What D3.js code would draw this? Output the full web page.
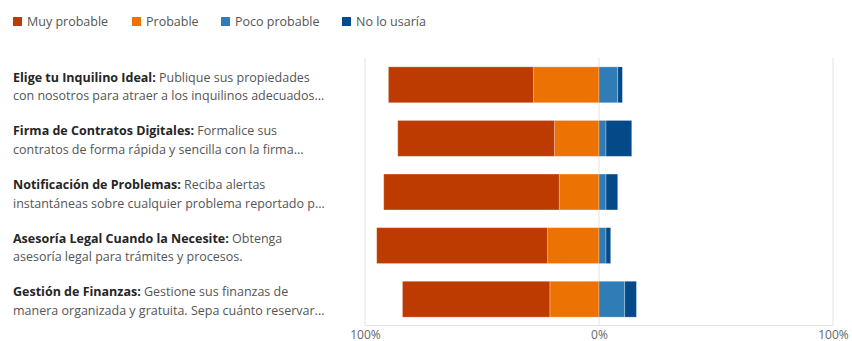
<!DOCTYPE html>
<html>
<head>
<meta charset="utf-8">
<script src="https://cdn.jsdelivr.net/npm/d3@7"></script>
<style>
  body { margin: 0; background: #fff; }
  text { font-family: "Open Sans", "Noto Sans", sans-serif; }
</style>
</head>
<body>
<div id="chart"></div>
<script>
// data
var seriesNames = ["Muy probable", "Probable", "Poco probable", "No lo usaría"]
var seriesColors = ["#bd3b00", "#ed7204", "#2f7cb7", "#044a88"]

var titles = [
    "Elige tu Inquilino Ideal:",
    "Firma de Contratos Digitales:",
    "Notificación de Problemas:",
    "Asesoría Legal Cuando la Necesite:",
    "Gestión de Finanzas:"
]
var descLine1 = [
    "Publique sus propiedades",
    "Formalice sus",
    "Reciba alertas",
    "Obtenga",
    "Gestione sus finanzas de"
]
var descLine2 = [
    "con nosotros para atraer a los inquilinos adecuados...",
    "contratos de forma rápida y sencilla con la firma...",
    "instantáneas sobre cualquier problema reportado p...",
    "asesoría legal para trámites y procesos.",
    "manera organizada y gratuita. Sepa cuánto reservar..."
]

var muyProbable  = [62, 67, 75, 73, 63]
var probable     = [28, 19, 17, 22, 21]
var pocoProbable = [8, 3, 3, 3, 11]
var noLoUsaria   = [2, 11, 5, 2, 5]

var tickValues = [-100, 0, 100]

const width = 852,
    height = 341

var svg = d3.select("#chart")
    .append("svg")
    .attr("width", width)
    .attr("height", height)

var x = d3.scaleLinear().domain([-100, 100]).range([365, 833])
var y = d3.scaleBand().domain(d3.range(titles.length)).range([58, 326])
    .paddingInner(0.33).paddingOuter(0.165)

// build segments: left side stacks outward from 0, right side too
var segs = []
titles.forEach((t, i) => {
    segs.push({row: i, s: 1, x0: -probable[i], x1: 0})
    segs.push({row: i, s: 0, x0: -probable[i] - muyProbable[i], x1: -probable[i]})
    segs.push({row: i, s: 2, x0: 0, x1: pocoProbable[i]})
    segs.push({row: i, s: 3, x0: pocoProbable[i], x1: pocoProbable[i] + noLoUsaria[i]})
})

// grid
var grid = svg.append("g")
grid.selectAll("line.v")
    .data(tickValues)
    .enter()
    .append("line")
    .attr("x1", d => x(d)).attr("x2", d => x(d))
    .attr("y1", 58).attr("y2", 325)
    .attr("stroke", "#e4e4e4")
grid.append("line")
    .attr("x1", x(-100)).attr("x2", x(100))
    .attr("y1", 325.5).attr("y2", 325.5)
    .attr("stroke", "#e4e4e4")

// bars
svg.append("g")
    .selectAll("rect")
    .data(segs)
    .enter()
    .append("rect")
    .attr("x", d => x(d.x0))
    .attr("width", d => x(d.x1) - x(d.x0))
    .attr("y", d => y(d.row))
    .attr("height", y.bandwidth())
    .attr("fill", d => seriesColors[d.s])
    .attr("stroke", "rgba(255,255,255,0.35)")
    .attr("stroke-width", 0.8)

// axis labels
var xAxis = d3.axisBottom(x)
    .tickValues(tickValues)
    .tickSize(0)
    .tickFormat(d => Math.abs(d) + "%")
var ax = svg.append("g")
    .attr("transform", "translate(0,326)")
    .call(xAxis)
ax.select(".domain").remove()
ax.selectAll("text")
    .attr("dy", 0)
    .attr("y", 12.5)
    .attr("fill", "#666")
    .style("font-size", "12px")
    .style("font-family", "\"Open Sans\", sans-serif")

// row labels
var labels = svg.append("g")
    .selectAll("g")
    .data(titles)
    .enter()
    .append("g")
    .attr("transform", (d, i) => `translate(13, ${y(i) + y.bandwidth() / 2})`)

var l1 = labels.append("text")
    .attr("y", -3)
    .style("font-size", "12.5px")
l1.append("tspan")
    .attr("font-weight", "bold")
    .attr("fill", "#252525")
    .text(d => d)
l1.append("tspan")
    .attr("fill", "#555")
    .text((d, i) => " " + descLine1[i])

labels.append("text")
    .attr("y", 15.5)
    .style("font-size", "12.5px")
    .attr("fill", "#555")
    .text((d, i) => descLine2[i])

// legend
var legendX = [13, 132, 221, 342]
var legend = svg.append("g")
    .selectAll("g")
    .data(seriesNames)
    .enter()
    .append("g")
    .attr("transform", (d, i) => `translate(${legendX[i]}, 17)`)
legend.append("rect")
    .attr("width", 9).attr("height", 9)
    .attr("fill", (d, i) => seriesColors[i])
legend.append("text")
    .attr("x", 14)
    .attr("y", 9)
    .attr("fill", "#555")
    .style("font-size", "12.5px")
    .text(d => d)
</script>
</body>
</html>
